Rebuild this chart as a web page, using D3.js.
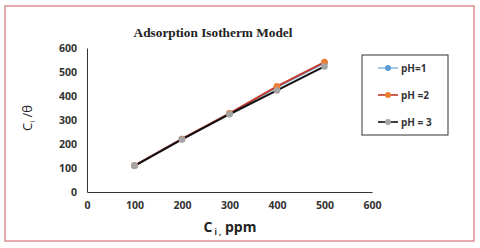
<!DOCTYPE html>
<html>
<head>
<meta charset="utf-8">
<script src="https://cdn.jsdelivr.net/npm/d3@7"></script>
<style>
  body { margin: 0; background: #fff; }
  svg { display: block; }
</style>
</head>
<body>
<svg id="chart" width="480" height="248"></svg>
<script>
// concentrations (ppm)
var conc = [100, 200, 300, 400, 500];
// Ci/theta for each pH
var ph1 = [110, 221, 327, 436, 537];
var ph2 = [110, 221, 328, 440, 541];
var ph3 = [109, 219, 324, 423, 523];
var seriesNames = ["pH=1", "pH =2", "pH = 3"];
var xTicks = [0, 100, 200, 300, 400, 500, 600];
var yTicks = [0, 100, 200, 300, 400, 500, 600];

var series = [
  { name: seriesNames[0], values: ph1, line: "#8fc0e8", marker: "#5b9bd5" },
  { name: seriesNames[1], values: ph2, line: "#c0392b", marker: "#ed7d31" },
  { name: seriesNames[2], values: ph3, line: "#111", marker: "#a5a5a5" }
];

var svg = d3.select("#chart");

// outer frame
svg.append("rect")
    .attr("x", 5).attr("y", 6)
    .attr("width", 469).attr("height", 235)
    .attr("fill", "#fff")
    .attr("stroke", "#dc8f92")
    .attr("stroke-width", 1.5);

var x = d3.scaleLinear().domain([0, 600]).range([87, 372]);
var y = d3.scaleLinear().domain([0, 600]).range([192, 48]);

// axes
var xAxis = svg.append("g")
    .attr("transform", "translate(0,192)")
    .call(d3.axisBottom(x).tickValues(xTicks).tickSize(0).tickPadding(10));
var yAxis = svg.append("g")
    .attr("transform", "translate(87,0)")
    .call(d3.axisLeft(y).tickValues(yTicks).tickSize(0).tickPadding(10));

[xAxis, yAxis].forEach(function(a) {
  a.select(".domain").attr("stroke", "#333").attr("stroke-width", 1);
  a.selectAll("text")
      .attr("fill", "#333")
      .style("font-family", "'Open Sans', sans-serif")
      .style("font-weight", "bold")
      .style("font-size", "10.5px");
});

// lines and markers
var line = d3.line()
    .x(function(d, i) { return x(conc[i]); })
    .y(function(d) { return y(d); });

series.forEach(function(s) {
  svg.append("path")
      .datum(s.values)
      .attr("fill", "none")
      .attr("stroke", s.line)
      .attr("stroke-width", 2)
      .attr("d", line);
});
series.forEach(function(s) {
  svg.append("g").selectAll("circle")
      .data(s.values)
      .enter().append("circle")
      .attr("cx", function(d, i) { return x(conc[i]); })
      .attr("cy", function(d) { return y(d); })
      .attr("r", 3.3)
      .attr("fill", s.marker);
});

// title
svg.append("text")
    .attr("x", 213).attr("y", 37)
    .attr("text-anchor", "middle")
    .style("font-family", "'Liberation Serif', 'Times New Roman', serif")
    .style("font-weight", "bold")
    .style("font-size", "13.3px")
    .attr("fill", "#222")
    .text("Adsorption Isotherm Model");

// x axis title
var xt = svg.append("text")
    .attr("x", 230).attr("y", 232)
    .attr("text-anchor", "middle")
    .style("font-family", "'Open Sans', sans-serif")
    .style("font-weight", "bold")
    .style("font-size", "14px")
    .attr("fill", "#222");
xt.append("tspan").text("C");
xt.append("tspan").attr("dy", 3).style("font-size", "8px").text(" i ,");
xt.append("tspan").attr("dy", -3).text(" ppm");

// y axis title
var yt = svg.append("text")
    .attr("transform", "translate(32,118) rotate(-90)")
    .attr("text-anchor", "middle")
    .style("font-family", "'Open Sans', sans-serif")
    .style("font-size", "13px")
    .attr("fill", "#222");
yt.append("tspan").text("C");
yt.append("tspan").attr("dy", 3).style("font-size", "8px").text("i");
yt.append("tspan").attr("dy", -3).text(" /θ");

// legend
svg.append("rect")
    .attr("x", 362).attr("y", 55)
    .attr("width", 86).attr("height", 80)
    .attr("fill", "#fff")
    .attr("stroke", "#333")
    .attr("stroke-width", 1);

var legend = svg.append("g").selectAll("g")
    .data(series)
    .enter().append("g")
    .attr("transform", function(d, i) { return "translate(0," + (68 + i * 27) + ")"; });
legend.append("line")
    .attr("x1", 378).attr("x2", 398)
    .attr("stroke", function(d) { return d.line; })
    .attr("stroke-width", 1.6);
legend.append("circle")
    .attr("cx", 388).attr("r", 3)
    .attr("fill", function(d) { return d.marker; });
legend.append("text")
    .attr("x", 401).attr("y", 3.5)
    .style("font-family", "'Open Sans', sans-serif")
    .style("font-weight", "bold")
    .style("font-size", "10px")
    .attr("fill", "#333")
    .text(function(d) { return d.name; });
</script>
</body>
</html>
